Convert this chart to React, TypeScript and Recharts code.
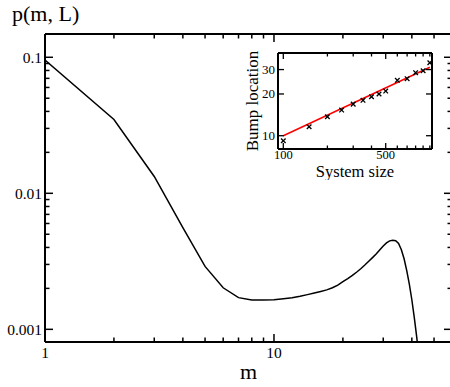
import React from 'react';
import { ComposedChart, Line, Scatter, XAxis, YAxis } from 'recharts';

const FONT = "'Liberation Serif', 'Times New Roman', Times, serif";

// ---- main chart data ----
const mValues = [
  1, 2, 3, 4, 5, 6, 7, 8, 9, 10, 11, 12, 13, 14, 15, 16, 17, 18, 19, 20, 21, 22,
  23, 24, 25, 26, 27, 28, 29, 30, 31, 32, 33, 34, 35, 36, 37, 38, 39, 40, 41, 42, 43, 44,
];
const pValues = [
  0.0955, 0.0349, 0.0133, 0.0056, 0.0029, 0.00202, 0.00171, 0.00164, 0.00164, 0.00165,
  0.00168, 0.00171, 0.00175, 0.0018, 0.00185, 0.0019, 0.00195, 0.00202, 0.00211, 0.00224,
  0.00236, 0.00249, 0.00264, 0.0028, 0.00298, 0.00318, 0.00338, 0.0036, 0.00385, 0.0041,
  0.00432, 0.00447, 0.00452, 0.00448, 0.00428, 0.00385, 0.0033, 0.0027, 0.00215, 0.00165,
  0.00122, 0.00088, 0.00062, 0.00042,
];
const mMajorTicks = [1, 10];
const mMinorTicks = [2, 3, 4, 5, 6, 7, 8, 9, 20, 30, 40, 50];
const mTickLabels = ['1', '10'];
const pMajorTicks = [0.001, 0.01, 0.1];
const pMinorTicks = [
  0.002, 0.003, 0.004, 0.005, 0.006, 0.007, 0.008, 0.009,
  0.02, 0.03, 0.04, 0.05, 0.06, 0.07, 0.08, 0.09,
];
const pTickLabels = ['0.001', '0.01', '0.1'];

// ---- inset data ----
const systemSizes = [100, 150, 200, 250, 300, 350, 400, 450, 500, 600, 700, 800, 900, 1000];
const bumpLocations = [9.2, 11.6, 13.7, 15.3, 16.9, 18.0, 19.1, 20.0, 21.0, 25.1, 25.8, 28.5, 29.4, 33.6];
const fitSizes = [100, 1000];
const fitBump = [10.0, 31.2];
const sizeMajorTicks = [100, 500];
const sizeMinorTicks = [200, 300, 400, 600, 700, 800, 900, 1000];
const sizeTickLabels = ['100', '500'];
const bumpMajorTicks = [10, 20, 30];
const bumpTickLabels = ['10', '20', '30'];

const mainData = mValues.map((m, i) => ({ m, p: pValues[i] }));
const insetPoints = systemSizes.map((x, i) => ({ x, y: bumpLocations[i] }));
const fitPoints = fitSizes.map((x, i) => ({ x, y: fitBump[i] }));

const mTicks = [...mMajorTicks, ...mMinorTicks].sort((a, b) => a - b);
const pTicks = [...pMajorTicks, ...pMinorTicks].sort((a, b) => a - b);
const sizeTicks = [...sizeMajorTicks, ...sizeMinorTicks].sort((a, b) => a - b);

type Side = 'left' | 'right' | 'top' | 'bottom';
interface TickOpts {
  major: number;
  minor: number;
  fontSize: number;
  gap: number;
  base: number;
  width: number;
}

function makeTick(side: Side, majors: number[], labels: string[] | null, o: TickOpts) {
  return (props: any) => {
    const { x, y, payload } = props;
    const v = Number(payload.value);
    const idx = majors.findIndex((t) => Math.abs(t - v) <= t * 1e-6);
    const len = idx >= 0 ? o.major : o.minor;
    let c: number[];
    let label: React.ReactNode = null;
    if (side === 'left') {
      c = [x, y, x + len, y];
      if (labels && idx >= 0)
        label = (
          <text x={x - o.gap} y={y + o.base} textAnchor="end" fontSize={o.fontSize} fontFamily={FONT} fill="#000">
            {labels[idx]}
          </text>
        );
    } else if (side === 'right') {
      c = [x - len, y, x, y];
    } else if (side === 'top') {
      c = [x, y, x, y + len];
    } else {
      c = [x, y - len, x, y];
      if (labels && idx >= 0)
        label = (
          <text x={x} y={y + o.base} textAnchor="middle" fontSize={o.fontSize} fontFamily={FONT} fill="#000">
            {labels[idx]}
          </text>
        );
    }
    return (
      <g>
        <line x1={c[0]} y1={c[1]} x2={c[2]} y2={c[3]} stroke="#000" strokeWidth={o.width} />
        {label}
      </g>
    );
  };
}

const mainOpts: TickOpts = { major: 8, minor: 4.5, fontSize: 15.5, gap: 3, base: 5.5, width: 1.5 };
const mainXOpts: TickOpts = { ...mainOpts, base: 16 };
const insetYOpts: TickOpts = { major: 6, minor: 3.5, fontSize: 13, gap: 3, base: 4.5, width: 1.3 };
const insetXOpts: TickOpts = { ...insetYOpts, fontSize: 12.5, base: 10 };

const frame = { stroke: '#000', strokeWidth: 2 };

const Cross = (props: any) => {
  const { cx, cy } = props;
  const s = 2.3;
  return (
    <g stroke="#000" strokeWidth={1.3}>
      <line x1={cx - s} y1={cy - s} x2={cx + s} y2={cy + s} />
      <line x1={cx - s} y1={cy + s} x2={cx + s} y2={cy - s} />
    </g>
  );
};

export default function App() {
  return (
    <div
      style={{
        position: 'absolute',
        left: 0,
        top: 0,
        width: 450,
        height: 387,
        overflow: 'hidden',
        background: '#fff',
      }}
    >
      <ComposedChart width={460} height={387} data={mainData} margin={{ top: 0, right: 0, bottom: 0, left: 0 }}>
        <XAxis
          xAxisId="bottom"
          dataKey="m"
          type="number"
          scale="log"
          domain={[1, 59.9]}
          allowDataOverflow
          ticks={mTicks}
          interval={0}
          height={45}
          tickSize={0}
          tickMargin={0}
          tickLine={false}
          axisLine={frame}
          tick={makeTick('bottom', mMajorTicks, mTickLabels, mainXOpts)}
          label={{
            content: (p: any) => {
              const vb = p.viewBox;
              return (
                <text x={vb.x + vb.width / 2} y={vb.y + 37} textAnchor="middle" fontSize={22} fontFamily={FONT} fill="#000">
                  m
                </text>
              );
            },
          }}
        />
        <XAxis
          xAxisId="top"
          orientation="top"
          dataKey="m"
          type="number"
          scale="log"
          domain={[1, 59.9]}
          allowDataOverflow
          ticks={mTicks}
          interval={0}
          height={34}
          tickSize={0}
          tickMargin={0}
          tickLine={false}
          axisLine={frame}
          tick={makeTick('top', mMajorTicks, null, mainOpts)}
        />
        <YAxis
          yAxisId="left"
          type="number"
          scale="log"
          domain={[0.000807, 0.1483]}
          allowDataOverflow
          ticks={pTicks}
          interval={0}
          width={45}
          tickSize={0}
          tickMargin={0}
          tickLine={false}
          axisLine={frame}
          tick={makeTick('left', pMajorTicks, pTickLabels, mainOpts)}
        />
        <YAxis
          yAxisId="right"
          orientation="right"
          type="number"
          scale="log"
          domain={[0.000807, 0.1483]}
          allowDataOverflow
          ticks={pTicks}
          interval={0}
          width={8}
          tickSize={0}
          tickMargin={0}
          tickLine={false}
          axisLine={frame}
          tick={makeTick('right', pMajorTicks, null, mainOpts)}
        />
        <Line
          xAxisId="bottom"
          yAxisId="left"
          dataKey="p"
          type="linear"
          stroke="#000"
          strokeWidth={1.5}
          dot={false}
          activeDot={false}
          isAnimationActive={false}
        />
      </ComposedChart>

      <div style={{ position: 'absolute', left: 240, top: 40 }}>
        <ComposedChart width={200} height={140} margin={{ top: 0, right: 0, bottom: 0, left: 0 }}>
          <XAxis
            xAxisId="bottom"
            dataKey="x"
            type="number"
            scale="log"
            domain={[92, 1035]}
            allowDataOverflow
            ticks={sizeTicks}
            interval={0}
            height={31}
            tickSize={0}
            tickMargin={0}
            tickLine={false}
            axisLine={frame}
            tick={makeTick('bottom', sizeMajorTicks, sizeTickLabels, insetXOpts)}
            label={{
              content: (p: any) => {
                const vb = p.viewBox;
                return (
                  <text x={vb.x + vb.width / 2} y={vb.y + 27.5} textAnchor="middle" fontSize={16.5} fontFamily={FONT} fill="#000">
                    System size
                  </text>
                );
              },
            }}
          />
          <XAxis
            xAxisId="top"
            orientation="top"
            dataKey="x"
            type="number"
            scale="log"
            domain={[92, 1035]}
            allowDataOverflow
            ticks={sizeTicks}
            interval={0}
            height={13}
            tickSize={0}
            tickMargin={0}
            tickLine={false}
            axisLine={frame}
            tick={makeTick('top', sizeMajorTicks, null, insetXOpts)}
          />
          <YAxis
            yAxisId="left"
            type="number"
            scale="log"
            domain={[8.02, 39.5]}
            allowDataOverflow
            ticks={bumpMajorTicks}
            interval={0}
            width={38}
            tickSize={0}
            tickMargin={0}
            tickLine={false}
            axisLine={frame}
            tick={makeTick('left', bumpMajorTicks, bumpTickLabels, insetYOpts)}
            label={{
              content: (p: any) => {
                const vb = p.viewBox;
                const cx = vb.x + 17.5;
                const cy = vb.y + vb.height / 2;
                return (
                  <text
                    x={cx}
                    y={cy}
                    transform={`rotate(-90 ${cx} ${cy})`}
                    textAnchor="middle"
                    fontSize={17}
                    fontFamily={FONT}
                    fill="#000"
                  >
                    Bump location
                  </text>
                );
              },
            }}
          />
          <YAxis
            yAxisId="right"
            orientation="right"
            type="number"
            scale="log"
            domain={[8.02, 39.5]}
            allowDataOverflow
            ticks={bumpMajorTicks}
            interval={0}
            width={8}
            tickSize={0}
            tickMargin={0}
            tickLine={false}
            axisLine={frame}
            tick={makeTick('right', bumpMajorTicks, null, insetYOpts)}
          />
          <Line
            xAxisId="bottom"
            yAxisId="left"
            data={fitPoints}
            dataKey="y"
            type="linear"
            stroke="#ff0000"
            strokeWidth={1.5}
            dot={false}
            activeDot={false}
            isAnimationActive={false}
          />
          <Scatter
            xAxisId="bottom"
            yAxisId="left"
            data={insetPoints}
            dataKey="y"
            shape={Cross}
            isAnimationActive={false}
          />
        </ComposedChart>
      </div>

      <svg style={{ position: 'absolute', left: 0, top: 0 }} width={450} height={32}>
        <text x={12} y={20.5} fontSize={22} fontFamily={FONT} fill="#000">
          p(m, L)
        </text>
      </svg>
    </div>
  );
}
